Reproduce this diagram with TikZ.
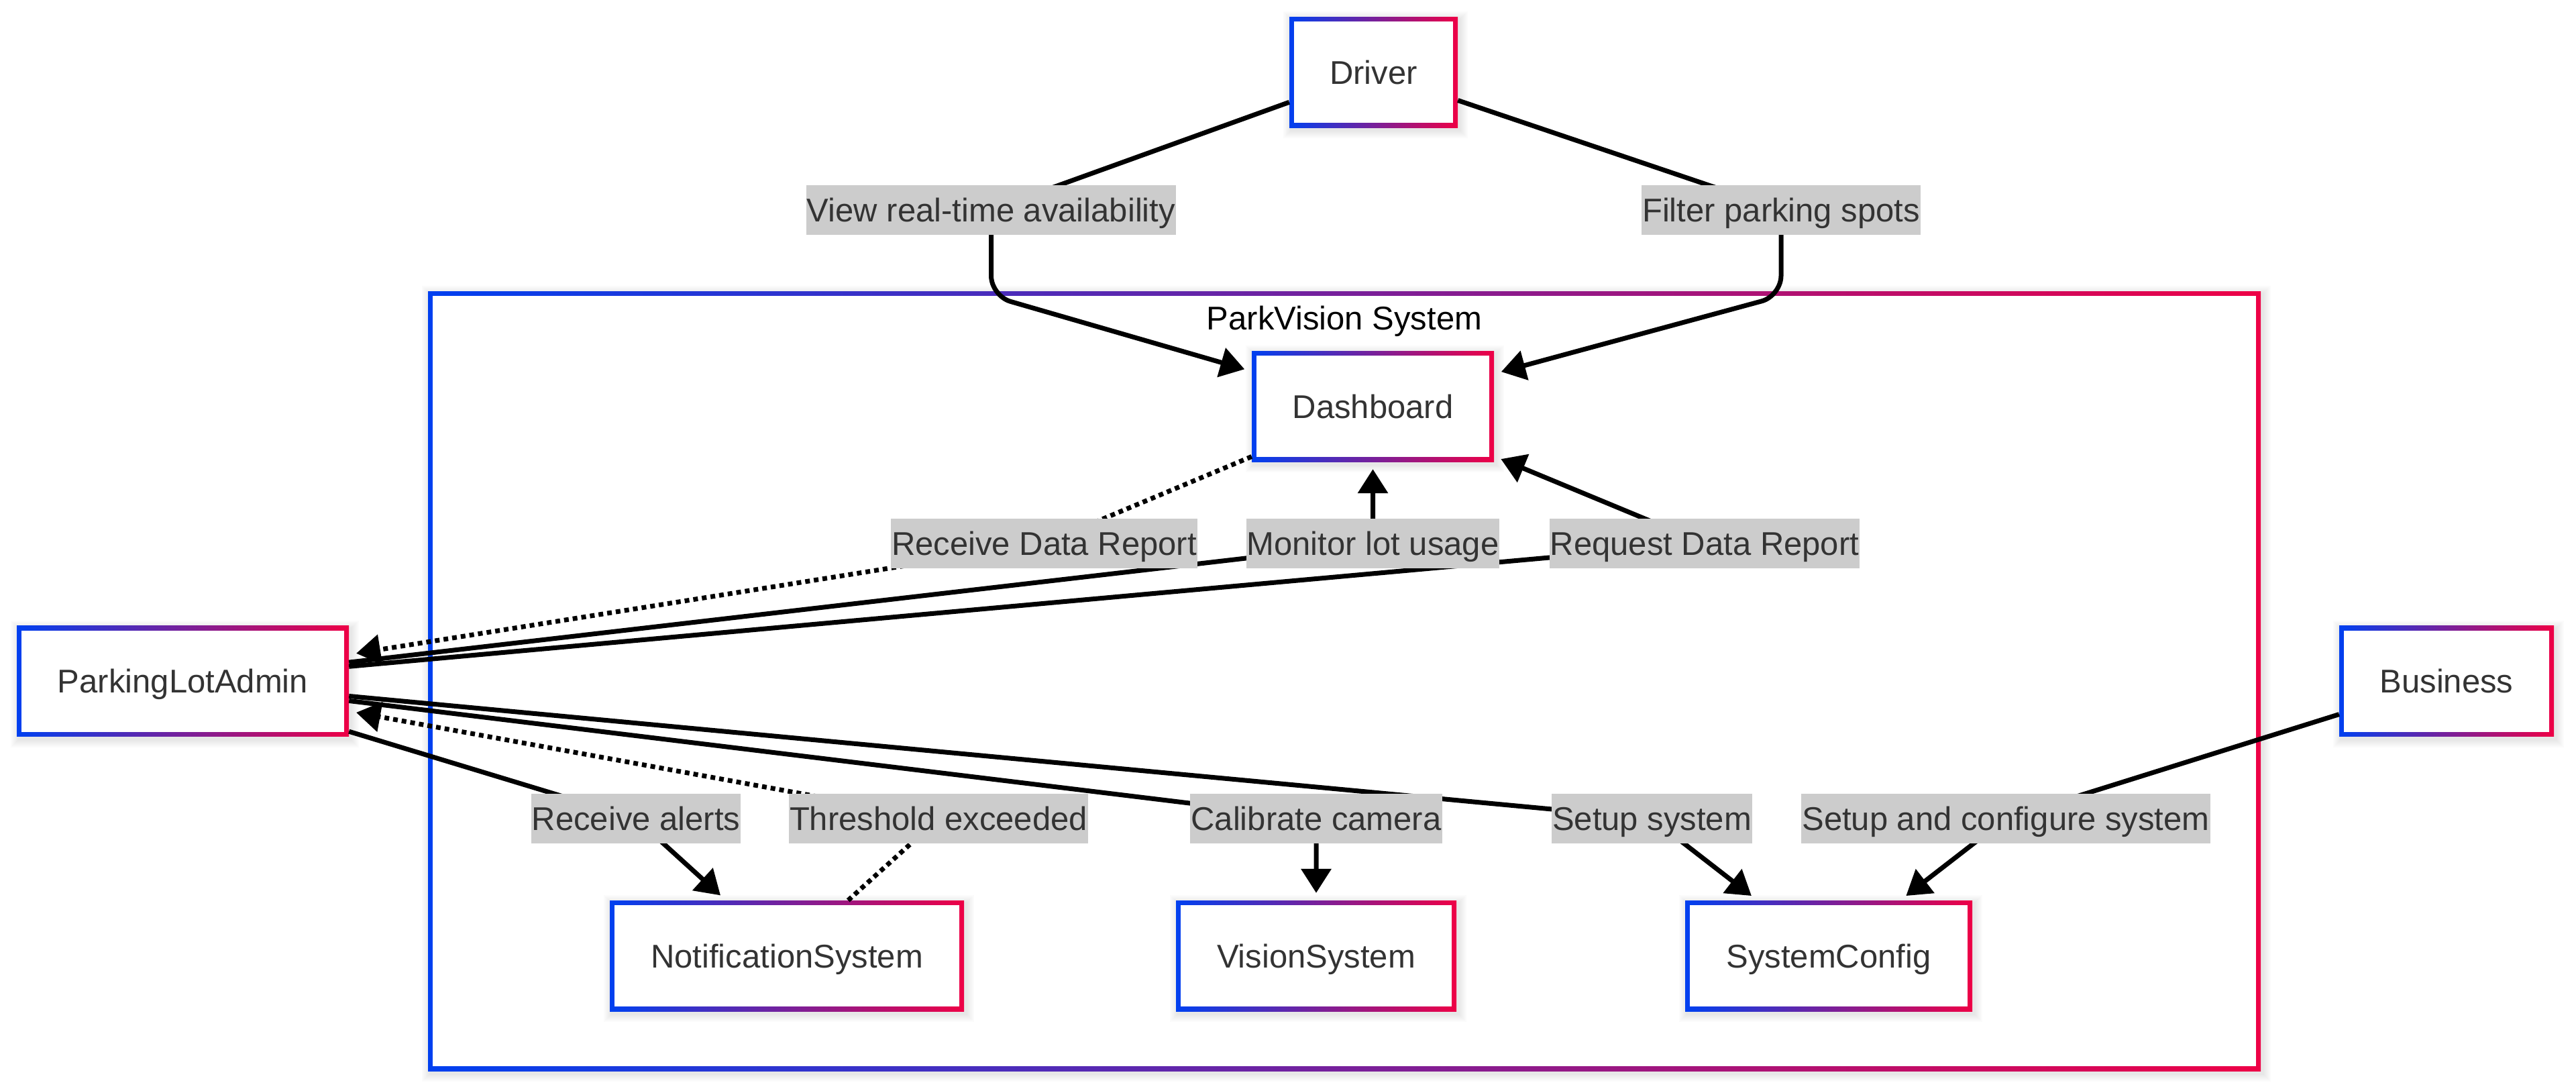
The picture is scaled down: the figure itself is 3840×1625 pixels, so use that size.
\documentclass[tikz,border=0pt]{standalone}
\usepackage{fontspec}
\setmainfont{Liberation Sans}
\usetikzlibrary{arrows.meta}
\definecolor{gblue}{RGB}{0,64,240}
\definecolor{gred}{RGB}{238,0,70}
\definecolor{lblgray}{RGB}{204,204,204}
\definecolor{txtgray}{RGB}{51,51,51}
\newcommand\softshadow[4]{%
  \foreach \k in {1,...,6}{%
    \fill[black,opacity=0.015] ({#1+3-2*\k},{#2+4-2*\k}) rectangle ({#3+3+2*\k},{#4+4+2*\k});}}
\newcommand\gbox[6]{%
  \softshadow{#2-#4/2}{#3-#5/2}{#2+#4/2}{#3+#5/2}
  \shade[left color=gblue,right color=gred] ({#2-#4/2},{#3-#5/2}) rectangle ({#2+#4/2},{#3+#5/2});
  \fill[white] ({#2-#4/2+7},{#3-#5/2+7}) rectangle ({#2+#4/2-7},{#3+#5/2-7});
  \node[boxtext, minimum width=#4pt, minimum height=#5pt] (#1) at (#2,#3) {#6};}
\begin{document}
\begin{tikzpicture}[x=1pt,y=-1pt,
  txt/.style={font=\fontsize{49pt}{59pt}\selectfont},
  boxtext/.style={txt,text=txtgray,inner sep=0pt,text height=35pt,text depth=0pt},
  lbl/.style={txt,text=txtgray,fill=lblgray,inner xsep=1pt,inner ysep=0pt,minimum height=74pt,text height=35pt,text depth=0pt},
  conn/.style={line width=7pt,draw=black,-{Triangle[length=36pt,width=44pt]},shorten >=11pt},
  dconn/.style={conn,dash pattern=on 7pt off 6pt}]
\fill[white] (0,0) rectangle (3840,1625);
\useasboundingbox (0,0) rectangle (3840,1625);
% system frame
\softshadow{638}{434}{3370}{1596}
\shade[left color=gblue,right color=gred] (638,434) rectangle (3370,1596);
\fill[white] (645,441) rectangle (3363,1589);
\node[txt,text=black,inner sep=0pt,text height=35pt,text depth=0pt] (title) at (2004,474) {ParkVision System};
% nodes
\gbox{Driver}{2047.5}{107.5}{251}{165}{Driver}
\gbox{Dash}{2046.5}{605.5}{361}{165}{Dashboard}
\gbox{PLA}{272.5}{1015}{495}{165}{ParkingLotAdmin}
\gbox{Business}{3647}{1015}{320}{165}{Business}
\gbox{Notif}{1173}{1424.5}{528}{165}{NotificationSystem}
\gbox{Vision}{1962}{1424.5}{418}{165}{VisionSystem}
\gbox{SysCfg}{2726}{1424.5}{428}{165}{SystemConfig}
% label positions
\coordinate (cView) at (1477.5,312.5);
\coordinate (cFilter) at (2655,312.5);
\coordinate (cRDR) at (1556.5,810);
\coordinate (cMon) at (2046.5,810);
\coordinate (cReq) at (2541,810);
\coordinate (cAlerts) at (948,1220);
\coordinate (cThr) at (1399,1220);
\coordinate (cCal) at (1962,1220);
\coordinate (cSetup) at (2462.5,1220);
\coordinate (cSAC) at (2990,1220);
\coordinate (bendView) at (1477.5,441);
\coordinate (bendFilter) at (2655,441);
% connectors
\draw[conn,rounded corners=30pt] (Driver) -- (cView) -- (bendView) -- (Dash);
\draw[conn,rounded corners=30pt] (Driver) -- (cFilter) -- (bendFilter) -- (Dash);
\draw[dconn] (Dash) -- (cRDR) -- (PLA);
\draw[conn] (PLA) -- (cMon) -- (Dash);
\draw[conn] (PLA) -- (cReq) -- (Dash);
\draw[conn] (PLA) -- (cAlerts) -- (Notif);
\draw[dconn] (Notif) -- (cThr) -- (PLA);
\draw[conn] (PLA) -- (cCal) -- (Vision);
\draw[conn] (PLA) -- (cSetup) -- (SysCfg);
\draw[conn] (Business) -- (cSAC) -- (SysCfg);
% labels
\node[lbl] (lView) at (cView) {View real-time availability};
\node[lbl] (lFilter) at (cFilter) {Filter parking spots};
\node[lbl] (lRDR) at (cRDR) {Receive Data Report};
\node[lbl] (lMon) at (cMon) {Monitor lot usage};
\node[lbl] (lReq) at (cReq) {Request Data Report};
\node[lbl] (lAlerts) at (cAlerts) {Receive alerts};
\node[lbl] (lThr) at (cThr) {Threshold exceeded};
\node[lbl] (lCal) at (cCal) {Calibrate camera};
\node[lbl] (lSetup) at (cSetup) {Setup system};
\node[lbl] (lSAC) at (cSAC) {Setup and configure system};
\end{tikzpicture}
\end{document}
